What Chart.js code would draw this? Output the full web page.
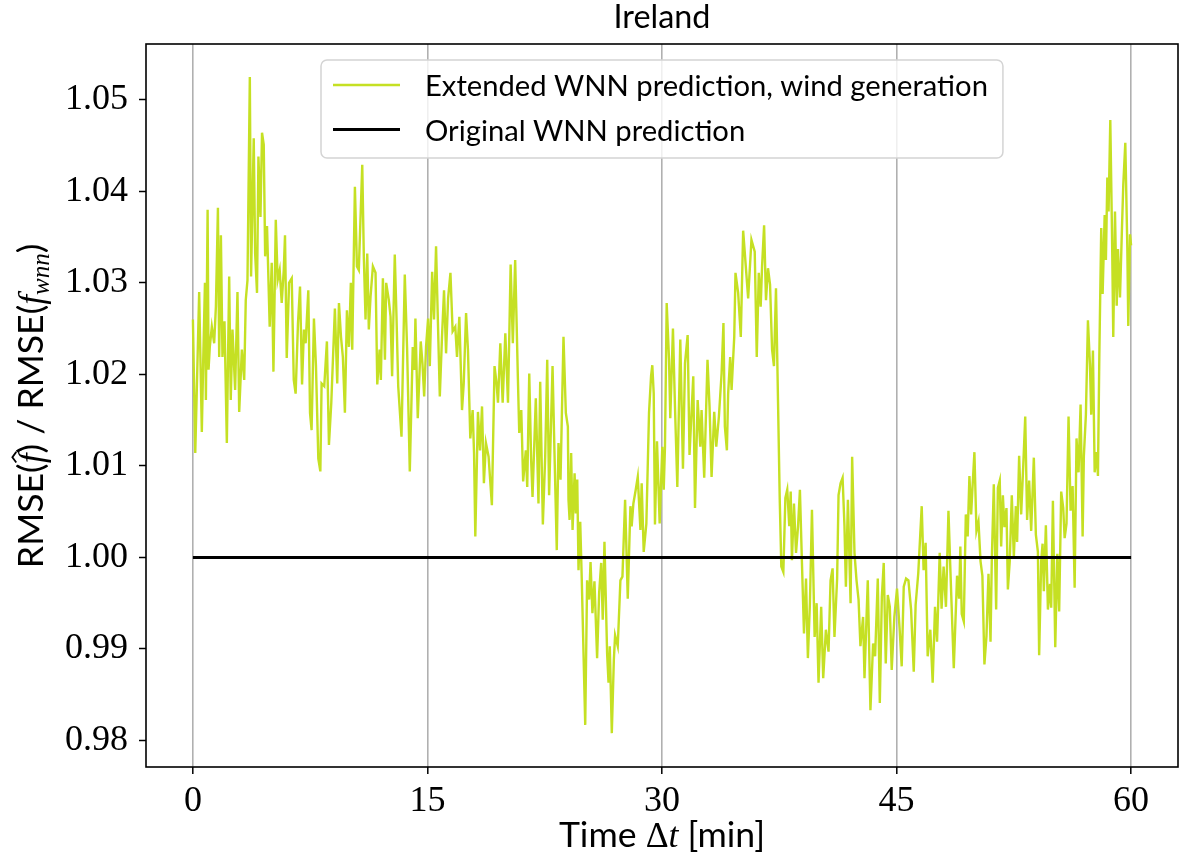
<!DOCTYPE html>
<html>
<head>
<meta charset="utf-8">
<script src="https://cdn.jsdelivr.net/npm/chart.js@4.4.1/dist/chart.umd.min.js"></script>
<style>
  html, body { margin: 0; padding: 0; background: #fff; }
  #wrap { width: 1179px; height: 867px; }
</style>
</head>
<body>
<div id="wrap"><canvas id="chart" width="1179" height="867"></canvas></div>
<script>
// lead time in minutes and RMSE ratio of the extended model
const times = [
  0.00, 0.15, 0.28, 0.40, 0.57, 0.66, 0.77, 0.83, 0.94, 1.00, 1.08, 1.21, 1.36, 1.47, 1.60, 1.68, 1.79, 1.89, 2.02, 2.17,
  2.32, 2.42, 2.53, 2.70, 2.85, 2.96, 3.13, 3.28, 3.38, 3.49, 3.64, 3.72, 3.89, 3.98, 4.10, 4.19, 4.32, 4.42, 4.53, 4.62,
  4.74, 4.91, 5.04, 5.15, 5.30, 5.42, 5.55, 5.68, 5.81, 5.89, 6.00, 6.15, 6.32, 6.45, 6.57, 6.72, 6.85, 6.98, 7.10, 7.21,
  7.38, 7.49, 7.59, 7.74, 7.87, 8.02, 8.15, 8.23, 8.40, 8.57, 8.70, 8.85, 9.08, 9.23, 9.34, 9.47, 9.59, 9.72, 9.85, 9.98,
  10.10, 10.19, 10.36, 10.49, 10.61, 10.83, 10.93, 11.04, 11.15, 11.25, 11.36, 11.51,
  11.68, 11.79, 11.94, 12.02, 12.15, 12.28, 12.36, 12.53, 12.64, 12.74, 12.91, 13.02, 13.13, 13.34, 13.55, 13.70, 13.87, 14.06,
  14.17, 14.23, 14.38, 14.57, 14.68, 14.79, 14.91, 15.04, 15.15, 15.30, 15.42, 15.55, 15.66, 15.79, 15.93, 16.06, 16.19, 16.32,
  16.47, 16.61, 16.78, 16.89, 17.04, 17.21, 17.32, 17.47, 17.59, 17.74, 17.89, 17.98, 18.06, 18.23, 18.36, 18.49, 18.61, 18.74,
  18.91, 19.12, 19.29, 19.42, 19.51, 19.66, 19.81, 19.98, 20.15, 20.32, 20.46, 20.61, 20.78, 20.87, 21.00, 21.12, 21.29, 21.38,
  21.51, 21.63, 21.72, 21.93, 22.10, 22.21, 22.38, 22.53, 22.66, 22.78, 23.00, 23.12, 23.27, 23.38, 23.51, 23.70, 23.85,
  23.98, 24.02, 24.09, 24.19, 24.28, 24.41, 24.49, 24.58, 24.66, 24.77, 24.87, 25.09, 25.21, 25.34, 25.43, 25.55, 25.68, 25.85,
  25.98, 26.11, 26.21, 26.32, 26.49, 26.58, 26.66, 26.79, 26.92, 27.00, 27.17, 27.34, 27.47, 27.64, 27.81, 27.98, 28.06, 28.17,
  28.32, 28.45, 28.62, 28.70, 28.83, 29.00, 29.17, 29.30, 29.38, 29.47, 29.55, 29.68, 29.85, 30.02, 30.11, 30.19, 30.30, 30.45,
  30.53, 30.70, 30.83, 30.98, 31.17, 31.34, 31.47, 31.64, 31.76, 32.00, 32.11, 32.28, 32.45, 32.53, 32.70, 32.91, 33.04, 33.17,
  33.34, 33.47, 33.64, 33.81, 33.93, 34.02, 34.15, 34.23, 34.36, 34.45, 34.62, 34.70, 34.87, 35.04, 35.19, 35.51, 35.72,
  35.93, 36.06, 36.19, 36.31, 36.40, 36.53, 36.65, 36.78, 36.91, 37.04, 37.16, 37.29, 37.38, 37.53, 37.63, 37.76, 37.89, 38.01,
  38.14, 38.23, 38.31, 38.44, 38.57, 38.70, 38.82, 38.95, 39.08, 39.21, 39.33, 39.46, 39.59, 39.76, 39.89, 40.01, 40.18, 40.31,
  40.48, 40.65, 40.78, 40.91, 41.03, 41.20, 41.29, 41.42, 41.55, 41.67, 41.76, 41.89, 42.06, 42.16, 42.31, 42.44, 42.57, 42.69,
  42.86, 42.95, 43.16, 43.33, 43.50, 43.63, 43.80, 43.93, 44.06, 44.18, 44.31, 44.44, 44.57, 44.69, 44.86, 45.03, 45.20, 45.33,
  45.46, 45.61, 45.76, 45.93, 46.10, 46.22, 46.39, 46.61, 46.73, 46.86, 46.99, 47.16, 47.31, 47.46, 47.59, 47.76, 47.88, 48.01, 48.16,
  48.32, 48.44, 48.66, 48.87, 49.00, 49.08, 49.17, 49.30, 49.43, 49.55, 49.66, 49.77, 49.85, 49.98, 50.11, 50.24, 50.37, 50.49,
  50.62, 50.75, 50.88, 51.01, 51.09, 51.22, 51.37, 51.48, 51.60, 51.69, 51.80, 51.90, 52.03, 52.12, 52.24, 52.37, 52.50, 52.63,
  52.71, 52.84, 52.97, 53.10, 53.23, 53.35, 53.48, 53.61, 53.78, 53.91, 54.04, 54.12, 54.25, 54.34, 54.42, 54.55, 54.68, 54.81,
  54.89, 55.00, 55.15, 55.28, 55.40, 55.53, 55.66, 55.75, 55.87, 56.00, 56.13, 56.26, 56.39, 56.51, 56.64, 56.77, 56.90, 56.98,
  57.11, 57.24, 57.37, 57.45, 57.56, 57.67, 57.80, 57.88, 57.97, 58.09, 58.18, 58.31, 58.39, 58.48, 58.56, 58.67, 58.78, 58.86,
  58.97, 59.08, 59.16, 59.29, 59.42, 59.50, 59.63, 59.76, 59.82, 59.93, 60.00
];
const ratio = [
  1.0260, 1.0114, 1.0205, 1.0290, 1.0137, 1.0216, 1.0300, 1.0172, 1.0380, 1.0205, 1.0230, 1.0252, 1.0234, 1.0274, 1.0382, 1.0219, 1.0352, 1.0219, 1.0258, 1.0125,
  1.0307, 1.0172, 1.0249, 1.0183, 1.0290, 1.0159, 1.0227, 1.0194, 1.0281, 1.0303, 1.0525, 1.0307, 1.0458, 1.0332, 1.0289, 1.0438, 1.0372, 1.0464, 1.0451, 1.0329,
  1.0362, 1.0252, 1.0322, 1.0203, 1.0369, 1.0303, 1.0314, 1.0278, 1.0314, 1.0352, 1.0218, 1.0300, 1.0305, 1.0194, 1.0179, 1.0256, 1.0296, 1.0189, 1.0249, 1.0234,
  1.0292, 1.0158, 1.0139, 1.0261, 1.0209, 1.0108, 1.0094, 1.0190, 1.0187, 1.0236, 1.0123, 1.0169, 1.0272, 1.0190, 1.0278, 1.0241, 1.0219, 1.0158, 1.0270, 1.0230,
  1.0300, 1.0227, 1.0405, 1.0318, 1.0314, 1.0429, 1.0329, 1.0260, 1.0332, 1.0249, 1.0285, 1.0318,
  1.0311, 1.0189, 1.0227, 1.0194, 1.0305, 1.0216, 1.0300, 1.0281, 1.0263, 1.0198, 1.0331, 1.0263, 1.0187, 1.0132, 1.0309, 1.0227, 1.0094, 1.0230,
  1.0205, 1.0261, 1.0152, 1.0236, 1.0212, 1.0176, 1.0230, 1.0261, 1.0209, 1.0312, 1.0260, 1.0340, 1.0263, 1.0176, 1.0241, 1.0292, 1.0223, 1.0283,
  1.0311, 1.0247, 1.0252, 1.0219, 1.0263, 1.0161, 1.0190, 1.0267, 1.0227, 1.0130, 1.0161, 1.0114, 1.0023, 1.0159, 1.0117, 1.0165, 1.0081, 1.0125,
  1.0110, 1.0057, 1.0209, 1.0190, 1.0169, 1.0234, 1.0169, 1.0245, 1.0169, 1.0320, 1.0234, 1.0325, 1.0198, 1.0136, 1.0161, 1.0083, 1.0117, 1.0077,
  1.0201, 1.0107, 1.0066, 1.0174, 1.0059, 1.0192, 1.0036, 1.0110, 1.0216, 1.0068, 1.0209, 1.0117, 1.0008, 1.0125, 1.0085, 1.0241, 1.0158,
  1.0143, 1.0063, 1.0041, 1.0114, 1.0030, 1.0092, 1.0048, 1.0085, 0.9986, 1.0039, 0.9975, 0.9817, 0.9975, 0.9954, 0.9995, 0.9939, 0.9974, 0.9890,
  0.9961, 0.9994, 0.9932, 1.0017, 0.9895, 0.9863, 0.9903, 0.9808, 0.9888, 0.9915, 0.9903, 0.9975, 0.9979, 1.0063, 0.9955, 1.0056, 1.0034, 1.0059,
  1.0074, 1.0088, 1.0030, 1.0081, 1.0006, 1.0037, 1.0158, 1.0198, 1.0210, 1.0179, 1.0036, 1.0127, 1.0037, 1.0121, 1.0074, 1.0121, 1.0278, 1.0216,
  1.0152, 1.0250, 1.0165, 1.0077, 1.0238, 1.0097, 1.0212, 1.0243, 1.0112, 1.0198, 1.0054, 1.0172, 1.0121, 1.0161, 1.0087, 1.0216, 1.0165, 1.0088,
  1.0159, 1.0121, 1.0154, 1.0201, 1.0256, 1.0143, 1.0117, 1.0179, 1.0219, 1.0183, 1.0241, 1.0311, 1.0289, 1.0241, 1.0357, 1.0283, 1.0347,
  1.0334, 1.0219, 1.0311, 1.0274, 1.0318, 1.0363, 1.0281, 1.0316, 1.0298, 1.0227, 1.0209, 1.0294, 1.0209, 1.0063, 0.9990, 0.9984, 1.0065, 1.0074,
  1.0034, 1.0072, 0.9997, 1.0059, 1.0005, 1.0034, 1.0074, 0.9994, 0.9917, 0.9977, 0.9890, 0.9950, 1.0052, 0.9913, 0.9950, 0.9863, 0.9946, 0.9868,
  0.9921, 0.9897, 0.9975, 0.9988, 0.9913, 0.9977, 1.0068, 1.0081, 1.0087, 1.0034, 0.9968, 1.0063, 0.9950, 1.0110, 1.0005, 0.9975, 0.9954, 0.9903,
  0.9935, 0.9868, 0.9975, 0.9833, 0.9906, 0.9892, 0.9977, 0.9841, 0.9957, 0.9994, 0.9884, 0.9959, 0.9946, 0.9877, 0.9935, 0.9966, 0.9921, 0.9881,
  0.9968, 0.9977, 0.9975, 0.9943, 0.9875, 0.9948, 0.9983, 1.0056, 0.9986, 1.0016, 0.9892, 0.9921, 0.9863, 0.9946, 0.9908, 1.0005, 0.9944, 0.9990, 0.9946,
  1.0051, 0.9988, 0.9879, 0.9980, 0.9955, 1.0012, 0.9938, 0.9930, 1.0047, 1.0023, 1.0089, 1.0047, 1.0074, 1.0115, 1.0029, 1.0039, 0.9996, 0.9980,
  0.9883, 0.9914, 0.9982, 0.9908, 0.9996, 1.0080, 0.9943, 1.0076, 1.0084, 1.0012, 1.0068, 1.0033, 1.0054, 0.9965, 0.9996, 1.0068, 1.0000, 1.0056,
  1.0017, 1.0111, 1.0047, 1.0099, 1.0154, 1.0041, 1.0084, 1.0029, 1.0109, 1.0025, 1.0006, 0.9893, 0.9996, 1.0015, 0.9963, 1.0035, 0.9943, 0.9971,
  0.9945, 1.0062, 0.9902, 1.0004, 0.9941, 1.0072, 1.0054, 1.0021, 1.0037, 1.0154, 1.0051, 1.0078, 0.9967, 1.0130, 1.0093, 1.0167, 1.0023, 1.0111,
  1.0156, 1.0259, 1.0210, 1.0156, 1.0226, 1.0093, 1.0115, 1.0089, 1.0222, 1.0360, 1.0288, 1.0374, 1.0325, 1.0415, 1.0378, 1.0478, 1.0353, 1.0241,
  1.0378, 1.0275, 1.0337, 1.0284, 1.0362, 1.0407, 1.0453, 1.0337, 1.0253, 1.0353, 1.0341
];
// reference model, ratio 1 by definition
const baselineTimes = [0, 60];
const baselineRatio = [1, 1];

const xTicks = [0, 15, 30, 45, 60];
const yTicks = [0.98, 0.99, 1.00, 1.01, 1.02, 1.03, 1.04, 1.05];
const seriesLabels = ['Extended WNN prediction, wind generation', 'Original WNN prediction'];
const titleText = 'Ireland';

const GREEN = '#c5e023';
const SANS = 'Lato, "DejaVu Sans", sans-serif';
const SERIF = '"Liberation Serif", "DejaVu Serif", serif';

function segFont(seg, size) {
  const s = size * (seg.scale || 1);
  return (seg.italic ? 'italic ' : '') + s.toFixed(2) + 'px ' + (seg.serif ? SERIF : SANS);
}

function runWidth(ctx, segs, size) {
  let w = 0;
  segs.forEach(seg => {
    ctx.font = segFont(seg, size);
    w += ctx.measureText(seg.t).width;
  });
  return w;
}

// font size that makes a run of segments as wide as `target`
function fitSize(ctx, segs, target) {
  return 30 * target / runWidth(ctx, segs, 30);
}

function drawRun(ctx, segs, size, x, y) {
  ctx.textAlign = 'left';
  ctx.textBaseline = 'alphabetic';
  segs.forEach(seg => {
    ctx.font = segFont(seg, size);
    const w = ctx.measureText(seg.t).width;
    ctx.fillText(seg.t, x, y + (seg.dy || 0) * size);
    if (seg.hat) {
      const cx = x + w * 0.62, top = y - size * 0.86;
      ctx.beginPath();
      ctx.moveTo(cx - size * 0.15, top + size * 0.11);
      ctx.lineTo(cx, top);
      ctx.lineTo(cx + size * 0.15, top + size * 0.11);
      ctx.lineWidth = size * 0.05;
      ctx.stroke();
    }
    x += w;
  });
}

const yLabel = [
  { t: 'RMSE(' },
  { t: 'f', serif: true, italic: true, hat: true },
  { t: ') / RMSE(' },
  { t: 'f', serif: true, italic: true },
  { t: 'wnn', serif: true, italic: true, scale: 0.7, dy: 0.16 },
  { t: ')' }
];
const xLabel = [
  { t: 'Time ' },
  { t: '\u0394', serif: true },
  { t: 't', serif: true, italic: true },
  { t: ' [min]' }
];

const decorations = {
  id: 'decorations',
  afterDatasetsDraw(chart) {
    const { ctx, chartArea: a } = chart;
    ctx.save();
    // full frame around the axes
    ctx.strokeStyle = '#000';
    ctx.lineWidth = 1.6;
    ctx.strokeRect(a.left, a.top, a.right - a.left, a.bottom - a.top);

    // legend box in the upper middle of the axes
    const lsz = fitSize(ctx, [{ t: seriesLabels[0] }], 563);
    ctx.font = segFont({}, lsz);
    const tw = Math.max(...seriesLabels.map(s => ctx.measureText(s).width));
    const bx = 321, by = 60, bw = 425 + tw + 15 - bx, bh = 98;
    ctx.beginPath();
    ctx.roundRect(bx, by, bw, bh, 6);
    ctx.fillStyle = 'rgba(255,255,255,0.8)';
    ctx.fill();
    ctx.strokeStyle = '#d4d4d4';
    ctx.lineWidth = 1.5;
    ctx.stroke();
    const rows = [
      { y: 85, color: GREEN, width: 2.4 },
      { y: 129.5, color: '#000', width: 3 }
    ];
    rows.forEach((r, i) => {
      ctx.beginPath();
      ctx.moveTo(333, r.y);
      ctx.lineTo(400, r.y);
      ctx.strokeStyle = r.color;
      ctx.lineWidth = r.width;
      ctx.stroke();
      ctx.fillStyle = '#000';
      ctx.font = segFont({}, lsz);
      ctx.textAlign = 'left';
      ctx.textBaseline = 'alphabetic';
      ctx.fillText(seriesLabels[i], 425, r.y + 11);
    });
    ctx.restore();
  },
  afterDraw(chart) {
    const { ctx, chartArea: a } = chart;
    const cx = (a.left + a.right) / 2;
    ctx.save();
    ctx.fillStyle = '#000';
    ctx.strokeStyle = '#000';

    // title
    const tsz = fitSize(ctx, [{ t: titleText }], 97);
    ctx.font = segFont({}, tsz);
    ctx.textAlign = 'center';
    ctx.textBaseline = 'alphabetic';
    ctx.fillText(titleText, cx, 28);

    // axis titles, a little larger than the title
    const asz = tsz * 1.1;
    const xw = runWidth(ctx, xLabel, asz);
    drawRun(ctx, xLabel, asz, cx - xw / 2, 847);

    // y axis title, reading bottom to top
    const yw = runWidth(ctx, yLabel, asz);
    ctx.translate(43, 406);
    ctx.rotate(-Math.PI / 2);
    drawRun(ctx, yLabel, asz, -yw / 2, 0);
    ctx.restore();
  }
};

const ctx = document.getElementById('chart').getContext('2d');
new Chart(ctx, {
  type: 'line',
  data: {
    datasets: [
      {
        label: seriesLabels[0],
        data: times.map((t, i) => ({ x: t, y: ratio[i] })),
        borderColor: GREEN,
        borderWidth: 2.4,
        pointRadius: 0,
        tension: 0,
        fill: false,
        order: 1
      },
      {
        label: seriesLabels[1],
        data: baselineTimes.map((t, i) => ({ x: t, y: baselineRatio[i] })),
        borderColor: '#000',
        borderWidth: 3,
        pointRadius: 0,
        tension: 0,
        fill: false,
        order: 0
      }
    ]
  },
  options: {
    responsive: false,
    animation: false,
    devicePixelRatio: 1,
    layout: { padding: { top: 44, right: 1, bottom: 0, left: 0 } },
    plugins: {
      legend: { display: false },
      tooltip: { enabled: false },
      title: { display: false }
    },
    scales: {
      x: {
        type: 'linear',
        min: -3,
        max: 63,
        afterBuildTicks: s => { s.ticks = xTicks.map(v => ({ value: v })); },
        afterFit: s => { s.height = 100; },
        border: { display: false },
        grid: { color: '#b0b0b0', lineWidth: 1.6, tickColor: '#000', tickLength: 7, tickWidth: 1.5 },
        ticks: {
          color: '#000',
          font: { family: SERIF, size: 36 },
          padding: 6,
          maxRotation: 0,
          callback: v => String(v)
        }
      },
      y: {
        type: 'linear',
        min: 0.9771,
        max: 1.0561,
        afterBuildTicks: s => { s.ticks = yTicks.map(v => ({ value: v })); },
        afterFit: s => { s.width = 146; },
        border: { display: false },
        grid: { drawOnChartArea: false, tickColor: '#000', tickLength: 7, tickWidth: 1.5 },
        ticks: {
          color: '#000',
          font: { family: SERIF, size: 36 },
          padding: 11,
          callback: v => v.toFixed(2)
        }
      }
    }
  },
  plugins: [decorations]
});
</script>
</body>
</html>
